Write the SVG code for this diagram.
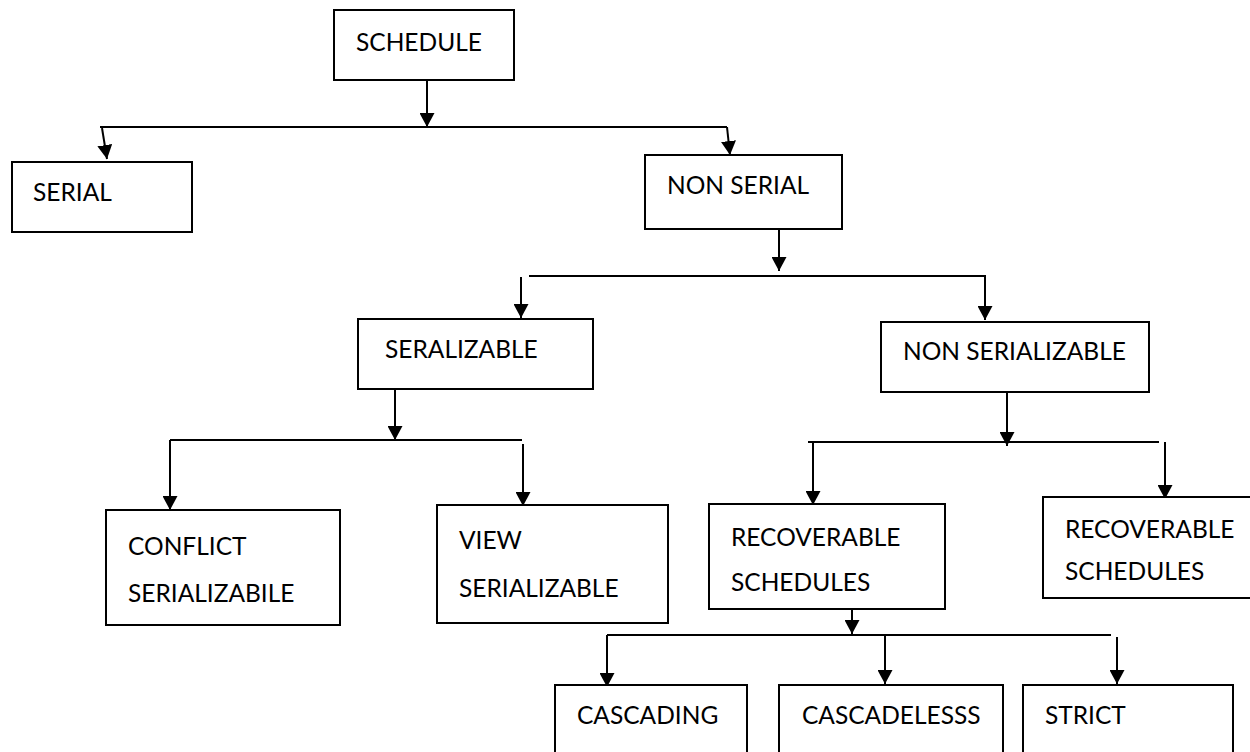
<svg xmlns="http://www.w3.org/2000/svg" width="1250" height="752" viewBox="0 0 1250 752">
<defs>
<marker id="ah" viewBox="0 0 14 15" refX="14" refY="7.5" markerWidth="14" markerHeight="15" markerUnits="userSpaceOnUse" orient="auto">
<path d="M0,0 L14,7.5 L0,15 z" fill="#000"/>
</marker>
</defs>
<style>
.box{fill:#fff;stroke:#000;stroke-width:2}
.t{font-family:Lato,"Open Sans","Liberation Sans",sans-serif;font-size:24.5px;fill:#000}
.ln{stroke:#000;stroke-width:2;fill:none}
.ar{stroke:#000;stroke-width:2;fill:none;marker-end:url(#ah)}
</style>
<rect width="1250" height="752" fill="#fff"/>
<g id="connectors">
<line class="ar" x1="427" y1="80" x2="427" y2="127"/>
<line class="ln" x1="100" y1="127" x2="727" y2="127"/>
<line class="ar" x1="102" y1="128" x2="107" y2="159"/>
<line class="ar" x1="727" y1="127" x2="730" y2="155"/>
<line class="ar" x1="779" y1="229" x2="779" y2="271"/>
<line class="ln" x1="529" y1="276" x2="986" y2="276"/>
<line class="ar" x1="521" y1="277" x2="521" y2="318"/>
<line class="ar" x1="985" y1="277" x2="985" y2="320"/>
<line class="ar" x1="395" y1="389" x2="395" y2="440"/>
<line class="ln" x1="170" y1="440" x2="522" y2="440"/>
<line class="ar" x1="170" y1="440" x2="170" y2="510"/>
<line class="ar" x1="523" y1="444" x2="523" y2="506"/>
<line class="ar" x1="1007" y1="392" x2="1007" y2="446"/>
<line class="ln" x1="808" y1="442" x2="1159" y2="442"/>
<line class="ar" x1="813" y1="442" x2="813" y2="505"/>
<line class="ar" x1="1165" y1="442" x2="1165" y2="499"/>
<line class="ar" x1="852" y1="609" x2="852" y2="634"/>
<line class="ln" x1="607" y1="635" x2="1111" y2="635"/>
<line class="ar" x1="607" y1="635" x2="607" y2="687"/>
<line class="ar" x1="885" y1="635" x2="885" y2="684"/>
<line class="ar" x1="1117" y1="637" x2="1117" y2="684"/>
</g>
<g id="schedule"><rect class="box" x="334" y="10" width="180" height="70"/><text class="t" x="356" y="51">SCHEDULE</text></g>
<g id="serial"><rect class="box" x="12" y="162" width="180" height="70"/><text class="t" x="33" y="201">SERIAL</text></g>
<g id="nonserial"><rect class="box" x="645" y="155" width="197" height="74"/><text class="t" x="667" y="194">NON SERIAL</text></g>
<g id="serializable"><rect class="box" x="358" y="319" width="235" height="70"/><text class="t" x="385" y="358">SERALIZABLE</text></g>
<g id="nonserializable"><rect class="box" x="881" y="322" width="268" height="70"/><text class="t" x="903" y="360">NON SERIALIZABLE</text></g>
<g id="conflict"><rect class="box" x="106" y="510" width="234" height="115"/><text class="t" x="128" y="555">CONFLICT</text><text class="t" x="128" y="602">SERIALIZABILE</text></g>
<g id="view"><rect class="box" x="437" y="505" width="231" height="118"/><text class="t" x="459" y="549">VIEW</text><text class="t" x="459" y="597">SERIALIZABLE</text></g>
<g id="recoverable1"><rect class="box" x="709" y="504" width="236" height="105"/><text class="t" x="731" y="546">RECOVERABLE</text><text class="t" x="731" y="591">SCHEDULES</text></g>
<g id="recoverable2"><rect class="box" x="1043" y="497" width="212" height="101"/><text class="t" x="1065" y="538">RECOVERABLE</text><text class="t" x="1065" y="580">SCHEDULES</text></g>
<g id="cascading"><rect class="box" x="555" y="685" width="192" height="80"/><text class="t" x="577" y="724">CASCADING</text></g>
<g id="cascadeless"><rect class="box" x="779" y="685" width="224" height="80"/><text class="t" x="802" y="724">CASCADELESSS</text></g>
<g id="strict"><rect class="box" x="1023" y="685" width="210" height="80"/><text class="t" x="1045" y="724">STRICT</text></g>
</svg>
